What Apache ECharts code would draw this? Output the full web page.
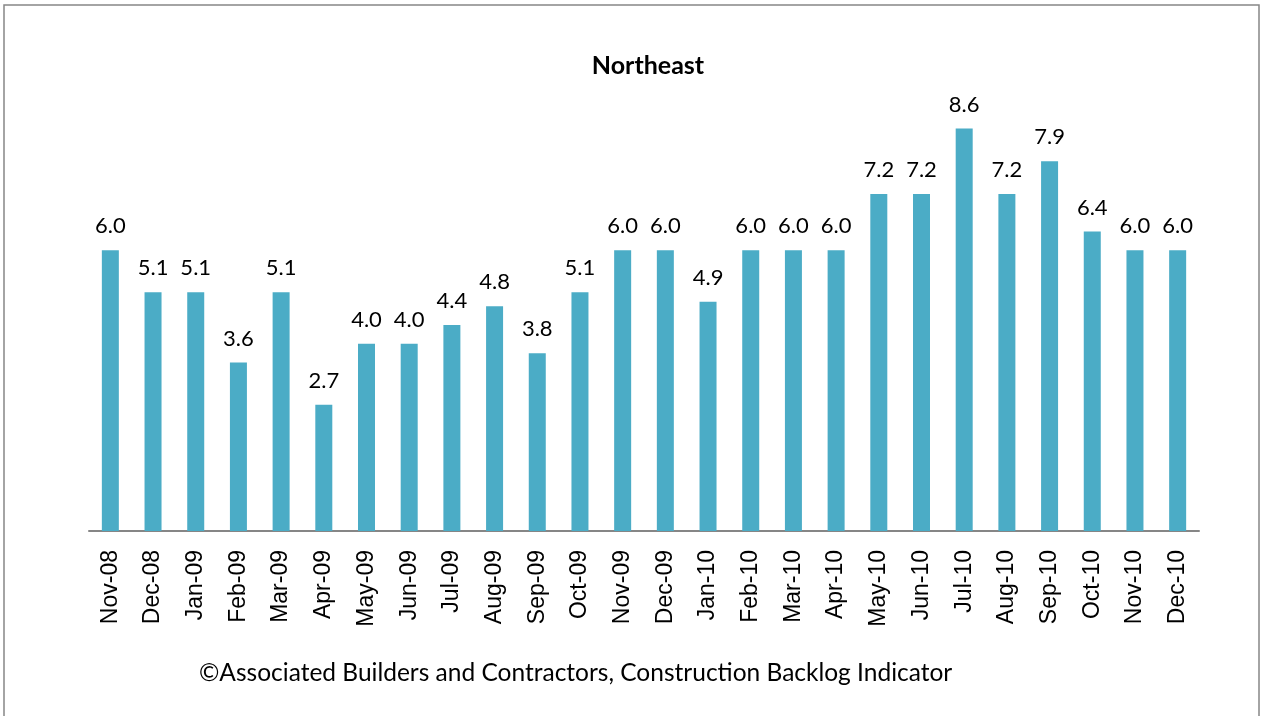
<!DOCTYPE html>
<html>
<head>
<meta charset="utf-8">
<script src="https://cdn.jsdelivr.net/npm/echarts@6/dist/echarts.min.js"></script>
<style>
  html, body { margin: 0; padding: 0; background: #fff; }
  #chart { width: 1261px; height: 716px; }
</style>
</head>
<body>
<div id="chart"></div>
<script>
var months = ['Nov-08', 'Dec-08', 'Jan-09', 'Feb-09', 'Mar-09', 'Apr-09', 'May-09', 'Jun-09',
  'Jul-09', 'Aug-09', 'Sep-09', 'Oct-09', 'Nov-09', 'Dec-09', 'Jan-10', 'Feb-10', 'Mar-10',
  'Apr-10', 'May-10', 'Jun-10', 'Jul-10', 'Aug-10', 'Sep-10', 'Oct-10', 'Nov-10', 'Dec-10'];
var backlog = [6.0, 5.1, 5.1, 3.6, 5.1, 2.7, 4.0, 4.0, 4.4, 4.8, 3.8, 5.1, 6.0, 6.0, 4.9,
  6.0, 6.0, 6.0, 7.2, 7.2, 8.6, 7.2, 7.9, 6.4, 6.0, 6.0];

var chartDom = document.getElementById('chart');
var myChart = echarts.init(chartDom);
var option;

option = {
  animation: false,
  title: {
    text: 'Northeast',
    left: 643,
    top: 48,
    textAlign: 'center',
    textStyle: { fontFamily: 'Lato', fontWeight: 'bold', fontSize: 25, color: '#000' }
  },
  graphic: [
    {
      type: 'rect',
      shape: { x: 4, y: 5, width: 1255, height: 720 },
      style: { fill: 'none', stroke: '#878787', lineWidth: 1.5 }
    },
    {
      type: 'text',
      left: 199,
      top: 661,
      style: {
        text: '\u00a9Associated Builders and Contractors, Construction Backlog Indicator',
        font: '24.5px Lato',
        fill: '#000'
      }
    }
  ],
  grid: { left: 89, right: 62, top: 63, bottom: 185 },
  xAxis: {
    type: 'category',
    data: months,
    axisLine: { lineStyle: { color: '#868686', width: 2 } },
    axisTick: { show: false },
    axisLabel: {
      rotate: 90,
      margin: 19,
      interval: 0,
      fontFamily: 'Liberation Sans',
      fontSize: 23,
      color: '#000'
    }
  },
  yAxis: {
    type: 'value',
    min: 0,
    max: 10,
    show: false
  },
  series: [{
    type: 'bar',
    data: backlog,
    barWidth: 17,
    itemStyle: { color: '#4BACC6' },
    label: {
      show: true,
      position: 'top',
      distance: 13,
      fontFamily: 'Lato',
      fontSize: 22,
      color: '#000',
      formatter: function (p) { return p.value.toFixed(1); }
    }
  }]
};

option && myChart.setOption(option);
</script>
</body>
</html>
